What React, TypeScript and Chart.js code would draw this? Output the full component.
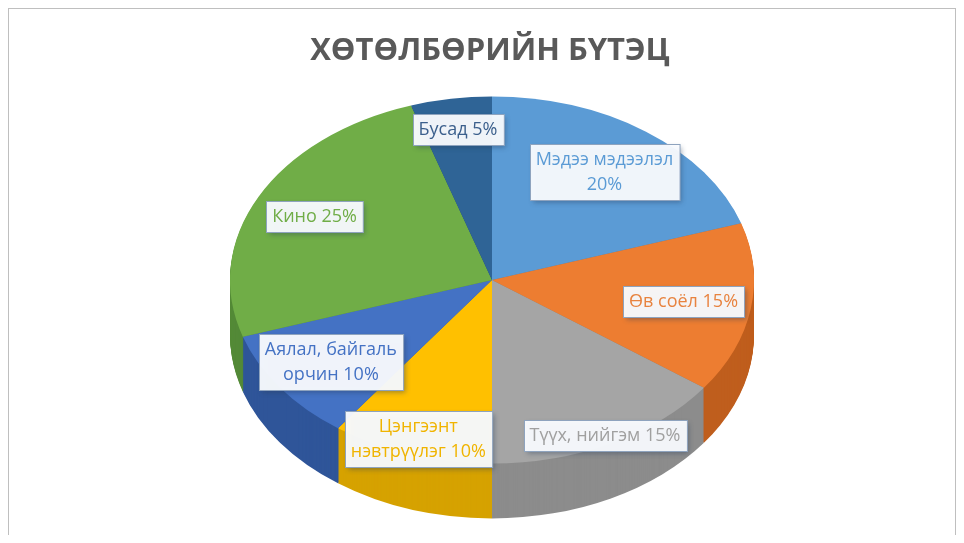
import React, { useEffect, useRef } from 'react';
import { Chart, registerables } from 'chart.js';

Chart.register(...registerables);

const TITLE = 'ХӨТӨЛБӨРИЙН БҮТЭЦ';
const categories = [
  'Мэдээ мэдээлэл',
  'Өв соёл',
  'Түүх, нийгэм',
  'Цэнгээнт нэвтрүүлэг',
  'Аялал, байгаль орчин',
  'Кино',
  'Бусад',
];
const shares = [20, 15, 15, 10, 10, 25, 5];
const sliceColors = ['#5B9BD5', '#ED7D31', '#A5A5A5', '#FFC000', '#4472C4', '#70AD47', '#2F6496'];
const sideColors = ['#3F7FBA', '#BF5E1D', '#8C8C8C', '#D6A200', '#2F5599', '#548A38', '#1D4873'];
const labelColors = ['#5B9BD5', '#E8833F', '#A0A0A0', '#F0B400', '#4472C4', '#70AD47', '#3B5F8C'];
const labelRadius = [0.73, 0.74, 0.95, 0.91, 0.76, 0.76, 0.83];

const PIE_CX = 483;
const PIE_CY = 271;
const ASPECT = 0.7;
const DEPTH = 55;
const RADIUS = 262;
const LABEL_FONT = '18px "Open Sans"';
const LINE_H = 25;
const WRAP = 162;

function wrap(ctx: CanvasRenderingContext2D, text: string, max: number): string[] {
  const words = text.split(' ');
  const lines: string[] = [];
  let cur = '';
  for (const w of words) {
    const t = cur ? cur + ' ' + w : w;
    if (cur && ctx.measureText(t).width > max) {
      lines.push(cur);
      cur = w;
    } else cur = t;
  }
  if (cur) lines.push(cur);
  return lines;
}

const pie3d = {
  id: 'pie3d',
  beforeDatasetsDraw(chart: any) {
    const ctx = chart.ctx as CanvasRenderingContext2D;
    const meta = chart.getDatasetMeta(0);
    if (!meta.data.length) return;
    const a0 = meta.data[0];
    ctx.save();
    ctx.translate(PIE_CX, PIE_CY);
    ctx.scale(1, ASPECT);
    ctx.translate(-a0.x, -a0.y);
    for (let d = DEPTH; d >= 1; d -= 1) {
      const shift = d / ASPECT;
      meta.data.forEach((arc: any, i: number) => {
        ctx.fillStyle = sideColors[i];
        ctx.beginPath();
        ctx.moveTo(arc.x, arc.y + shift);
        ctx.arc(arc.x, arc.y + shift, arc.outerRadius, arc.startAngle, arc.endAngle);
        ctx.closePath();
        ctx.fill();
      });
    }
  },
  afterDatasetsDraw(chart: any) {
    const ctx = chart.ctx as CanvasRenderingContext2D;
    ctx.restore();
    const meta = chart.getDatasetMeta(0);
    ctx.save();
    ctx.font = LABEL_FONT;
    ctx.textAlign = 'center';
    ctx.textBaseline = 'middle';
    meta.data.forEach((arc: any, i: number) => {
      const a = (arc.startAngle + arc.endAngle) / 2;
      const rr = arc.outerRadius * labelRadius[i];
      const lx = PIE_CX + Math.cos(a) * rr;
      const ly = PIE_CY + Math.sin(a) * rr * ASPECT;
      const lines = wrap(ctx, categories[i] + ' ' + shares[i] + '%', WRAP);
      const w = Math.max(...lines.map((l) => ctx.measureText(l).width)) + 12;
      const h = lines.length * LINE_H + 6;
      const bx = Math.round(lx - w / 2) + 0.5;
      const by = Math.round(ly - h / 2) + 0.5;
      ctx.save();
      ctx.shadowColor = 'rgba(40,60,90,0.45)';
      ctx.shadowBlur = 5;
      ctx.shadowOffsetX = 2;
      ctx.shadowOffsetY = 2;
      ctx.fillStyle = 'rgba(250,252,255,0.95)';
      ctx.fillRect(bx, by, w, h);
      ctx.restore();
      ctx.strokeStyle = '#8EA3BE';
      ctx.lineWidth = 1;
      ctx.strokeRect(bx, by, w, h);
      ctx.fillStyle = labelColors[i];
      lines.forEach((l, j) => {
        ctx.fillText(l, lx, by + 3 + LINE_H * (j + 0.5));
      });
    });
    ctx.restore();
  },
};

export default function App() {
  const ref = useRef<HTMLCanvasElement>(null);
  useEffect(() => {
    if (!ref.current) return;
    const chart = new Chart(ref.current, {
      type: 'pie',
      data: {
        labels: categories,
        datasets: [
          {
            data: shares,
            backgroundColor: sliceColors,
            borderWidth: 0,
            radius: RADIUS,
          } as any,
        ],
      },
      options: {
        animation: false,
        responsive: false,
        events: [],
        layout: { padding: { left: 16 } },
        plugins: {
          legend: { display: false },
          tooltip: { enabled: false },
          title: {
            display: true,
            text: TITLE,
            color: '#595959',
            font: { family: '"Open Sans"', size: 31, weight: 'bold' },
            padding: { top: 24, bottom: 10 },
          },
        },
      },
      plugins: [pie3d],
    });
    return () => chart.destroy();
  }, []);
  return (
    <div
      style={{
        width: 948,
        height: 527,
        overflow: 'hidden',
        borderTop: '1px solid #BFBFBF',
        borderLeft: '1px solid #BFBFBF',
        borderRight: '1px solid #BFBFBF',
        boxSizing: 'border-box',
        position: 'relative',
        background: '#fff',
      }}
    >
      <canvas ref={ref} width={946} height={640} style={{ display: 'block' }} />
    </div>
  );
}
